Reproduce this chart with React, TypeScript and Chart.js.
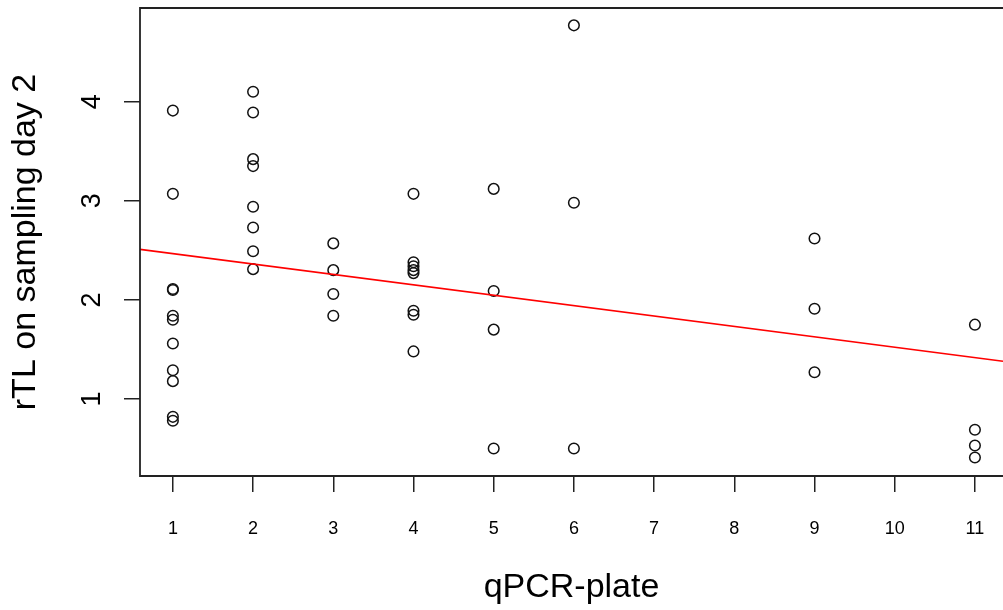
import React, { useEffect, useRef } from "react";
import { Chart, registerables } from "chart.js";

Chart.register(...registerables);

// qPCR plate of each sample
const plate = [
  1, 1, 1, 1, 1, 1, 1, 1, 1, 1, 1,
  2, 2, 2, 2, 2, 2, 2, 2,
  3, 3, 3, 3,
  4, 4, 4, 4, 4, 4, 4, 4,
  5, 5, 5, 5,
  6, 6, 6,
  9, 9, 9,
  11, 11, 11, 11,
];
// rTL on sampling day 2
const rtl = [
  3.91, 3.07, 2.11, 2.1, 1.84, 1.8, 1.56, 1.29, 1.18, 0.82, 0.78,
  4.1, 3.89, 3.42, 3.35, 2.94, 2.73, 2.49, 2.31,
  2.57, 2.3, 2.06, 1.84,
  3.07, 2.38, 2.34, 2.3, 2.27, 1.89, 1.85, 1.48,
  3.12, 2.09, 1.7, 0.5,
  4.77, 2.98, 0.5,
  2.62, 1.91, 1.27,
  1.75, 0.69, 0.53, 0.41,
];

const xTickValues = [1, 2, 3, 4, 5, 6, 7, 8, 9, 10, 11];
const yTickValues = [1, 2, 3, 4];
const xRange = [0.59, 11.35];
const yRange = [0.223, 4.945];

// fitted regression line
const fitIntercept = 2.572;
const fitSlope = -0.105;

const xTitle = "qPCR-plate";
const yTitle = "rTL on sampling day 2";

const SANS = '"Liberation Sans", Arial, sans-serif';
const NARROW = '"Liberation Sans Narrow", "Liberation Sans", Arial, sans-serif';

const framePlugin = {
  id: "frame",
  afterDatasetsDraw(chart: any) {
    const { ctx, chartArea } = chart;
    const { left, top, right, bottom } = chartArea;
    ctx.save();
    ctx.strokeStyle = "#222";
    ctx.lineWidth = 1.8;
    ctx.beginPath();
    ctx.moveTo(right + 5, top);
    ctx.lineTo(left, top);
    ctx.lineTo(left, bottom);
    ctx.lineTo(right + 5, bottom);
    ctx.stroke();
    ctx.restore();
  },
};

const zeroPad = (s: any) => {
  s.paddingTop = 0;
  s.paddingBottom = 0;
  s.paddingLeft = 0;
  s.paddingRight = 0;
};

export default function App() {
  const canvasRef = useRef<HTMLCanvasElement | null>(null);

  useEffect(() => {
    document.body.style.margin = "0";
    const canvas = canvasRef.current;
    if (!canvas) return;

    const points = plate.map((p, i) => ({ x: p, y: rtl[i] }));
    const fitLine = xRange.map((x) => ({ x, y: fitIntercept + fitSlope * x }));

    const chart = new Chart(canvas, {
      type: "scatter",
      data: {
        datasets: [
          {
            type: "line",
            label: "fit",
            data: fitLine,
            borderColor: "#ff0000",
            borderWidth: 1.6,
            pointRadius: 0,
            fill: false,
          } as any,
          {
            label: "rTL",
            data: points,
            pointStyle: "circle",
            pointRadius: 5.3,
            pointBorderWidth: 1.5,
            borderColor: "#111",
            backgroundColor: "rgba(0,0,0,0)",
            pointBackgroundColor: "rgba(0,0,0,0)",
          } as any,
        ],
      },
      options: {
        animation: false,
        responsive: true,
        maintainAspectRatio: false,
        layout: { autoPadding: false, padding: { left: 0, right: 0, top: 8, bottom: 0 } },
        plugins: {
          legend: { display: false },
          tooltip: { enabled: false },
        },
        scales: {
          x: {
            type: "linear",
            position: "bottom",
            min: xRange[0],
            max: xRange[1],
            afterBuildTicks: (s: any) => {
              s.ticks = xTickValues.map((value) => ({ value }));
            },
            afterFit: (s: any) => {
              s.height = 134;
              zeroPad(s);
            },
            border: { display: false },
            grid: {
              drawOnChartArea: false,
              drawTicks: true,
              tickLength: 16,
              color: "#222",
              lineWidth: 1.5,
            },
            ticks: {
              autoSkip: false,
              maxRotation: 0,
              minRotation: 0,
              color: "#000",
              padding: 26,
              font: { family: NARROW, size: 18 },
              callback: (v: any) => String(v),
            },
            title: {
              display: true,
              text: xTitle,
              color: "#000",
              font: { family: SANS, size: 34 },
              padding: { top: 2, bottom: 2 },
            },
          },
          y: {
            type: "linear",
            min: yRange[0],
            max: yRange[1],
            afterBuildTicks: (s: any) => {
              s.ticks = yTickValues.map((value) => ({ value }));
            },
            afterFit: (s: any) => {
              s.width = 140;
              zeroPad(s);
            },
            border: { display: false },
            grid: {
              drawOnChartArea: false,
              drawTicks: true,
              tickLength: 16,
              color: "#222",
              lineWidth: 1.5,
            },
            ticks: {
              minRotation: 90,
              maxRotation: 90,
              crossAlign: "center",
              color: "#000",
              padding: 24,
              font: { family: SANS, size: 27 },
              callback: (v: any) => String(v),
            },
            title: {
              display: true,
              text: yTitle,
              color: "#000",
              font: { family: SANS, size: 34 },
              padding: { top: 5, bottom: 5 },
            },
          },
        },
      },
      plugins: [framePlugin],
    });

    return () => chart.destroy();
  }, []);

  return (
    <div style={{ position: "absolute", left: 0, top: 0, width: 1003, height: 610, background: "#fff" }}>
      <canvas ref={canvasRef} />
    </div>
  );
}
